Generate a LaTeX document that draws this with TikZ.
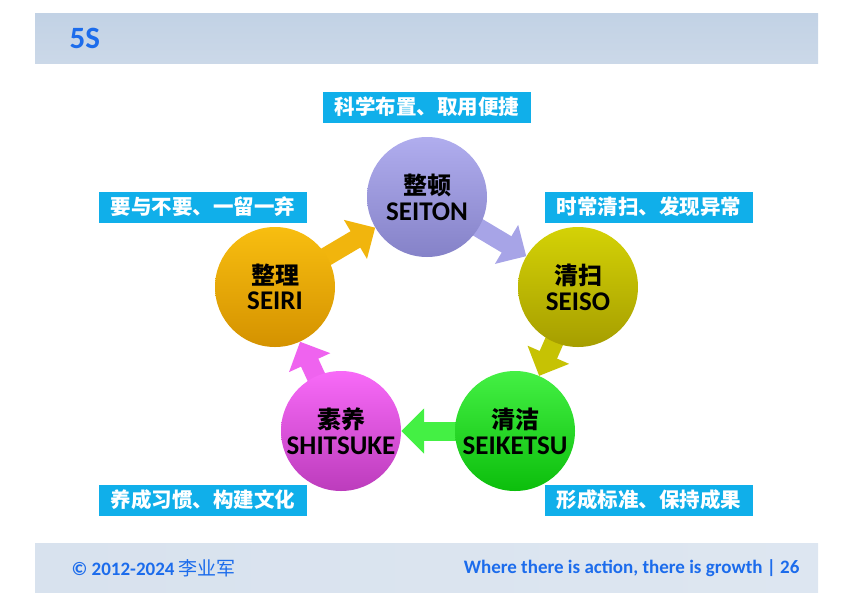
\documentclass[tikz,border=0pt]{standalone}
\usepackage{fontspec}
\setmainfont{Carlito}
\newfontfamily\zh{Noto Sans CJK SC}
\usetikzlibrary{arrows.meta,positioning,backgrounds}

\definecolor{titleblue}{HTML}{1C6CEC}
\definecolor{tagcyan}{HTML}{10AFEA}
\definecolor{barhi}{HTML}{CBD8E8}
\definecolor{barlo}{HTML}{C2D2E5}
\definecolor{seitonA}{HTML}{B0ADEE}
\definecolor{seitonB}{HTML}{8582C8}
\definecolor{seisoA}{HTML}{D4D206}
\definecolor{seisoB}{HTML}{A69E00}
\definecolor{seiketsuA}{HTML}{44F044}
\definecolor{seiketsuB}{HTML}{0CBE0C}
\definecolor{shitsukeA}{HTML}{F86AF8}
\definecolor{shitsukeB}{HTML}{BC3CBC}
\definecolor{seiriA}{HTML}{F8BE10}
\definecolor{seiriB}{HTML}{D49200}

\begin{document}
\begin{tikzpicture}[x=1pt, y=-1pt,
    stage/.style={circle, minimum size=120pt, inner sep=0pt, align=center, shading angle=45},
    tag/.style={fill=tagcyan, text=white, minimum width=208pt, minimum height=31pt, inner sep=0pt,
        font=\zh\bfseries\fontsize{20.5}{20.5}\selectfont},
    flow/.style={line width=19pt, -{Triangle[width=44pt,length=23pt]}, shorten <=-8pt}
]
\useasboundingbox (0,0) rectangle (854,603);

% header and footer bars
\fill[top color=barlo, bottom color=barhi] (35,13) rectangle (818,63);
\node[anchor=west, text=titleblue, font=\bfseries\fontsize{31}{31}\selectfont] (title) at (66,38) {5S};
\fill[left color=barhi!75!white, middle color=white, right color=barlo!55!white] (35,543) rectangle (818,592);
\node[anchor=west, text=titleblue, font=\bfseries\fontsize{19}{19}\selectfont] (copy) at (68,568)
    {\textcopyright\ 2012-2024 {\zh\mdseries 李业军}};
\node[anchor=east, text=titleblue, font=\bfseries\fontsize{19}{19}\selectfont] (motto) at (803,568)
    {Where there is action, there is growth \textbar\ 26};

% the five stages
\node[stage, top color=seitonA, bottom color=seitonB] (seiton) at (427,197)
    {{\zh\bfseries\fontsize{24}{27}\selectfont 整顿}\\[5pt]{\bfseries\fontsize{27}{27}\selectfont SEITON}};
\node[stage, top color=seisoA, bottom color=seisoB] (seiso) at (578,287)
    {{\zh\bfseries\fontsize{24}{27}\selectfont 清扫}\\[5pt]{\bfseries\fontsize{27}{27}\selectfont SEISO}};
\node[stage, top color=seiketsuA, bottom color=seiketsuB] (seiketsu) at (515,431)
    {{\zh\bfseries\fontsize{24}{27}\selectfont 清洁}\\[5pt]{\bfseries\fontsize{27}{27}\selectfont SEIKETSU}};
\node[stage, top color=shitsukeA, bottom color=shitsukeB] (shitsuke) at (341,431)
    {{\zh\bfseries\fontsize{24}{27}\selectfont 素养}\\[5pt]{\bfseries\fontsize{27}{27}\selectfont SHITSUKE}};
\node[stage, top color=seiriA, bottom color=seiriB] (seiri) at (275,287)
    {{\zh\bfseries\fontsize{24}{27}\selectfont 整理}\\[5pt]{\bfseries\fontsize{27}{27}\selectfont SEIRI}};

% block arrows behind the circles
\begin{scope}[on background layer]
\draw[flow, seiriA!80!seiriB] (seiri) -- (seiton);
\draw[flow, seitonA!80!seitonB] (seiton) -- (seiso);
\draw[flow, seisoA!70!seisoB] (seiso) -- (seiketsu);
\draw[flow, seiketsuA] (seiketsu) -- (shitsuke);
\draw[flow, shitsukeA!85!shitsukeB] (shitsuke) -- (seiri);
\end{scope}

% captions
\node[tag] (tagseiton) at (427,107) {科学布置、取用便捷};
\node[tag] (tagseiri) at (203,207) {要与不要、一留一弃};
\node[tag] (tagseiso) at (649,207) {时常清扫、发现异常};
\node[tag] (tagshitsuke) at (203,500) {养成习惯、构建文化};
\node[tag] (tagseiketsu) at (649,500) {形成标准、保持成果};
\end{tikzpicture}
\end{document}
